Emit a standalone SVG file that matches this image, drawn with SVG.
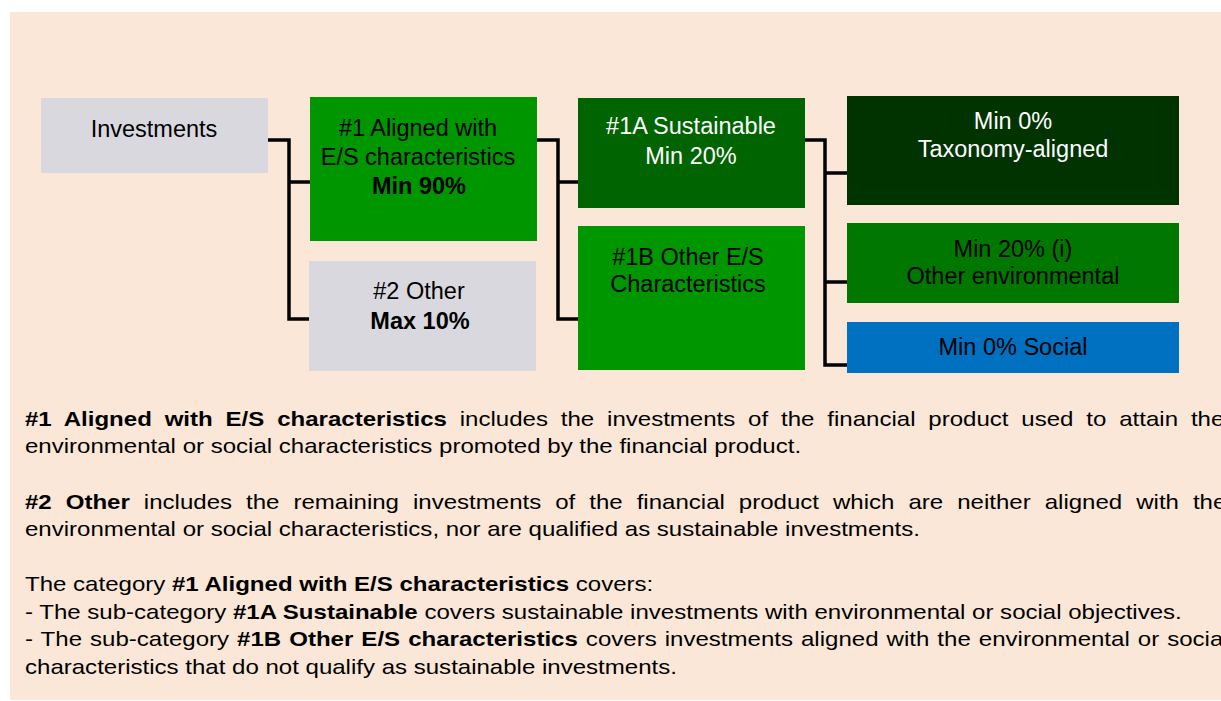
<svg xmlns="http://www.w3.org/2000/svg" width="1221" height="701" viewBox="0 0 1221 701">
<style>
.t{font-family:"Liberation Sans",Arial,sans-serif;font-size:23.5px;text-anchor:middle;fill:#000}
.w{fill:#fff}
.b{font-weight:bold}
.p{font-family:"Liberation Sans",Arial,sans-serif;font-size:21px;fill:#000}
.c{fill:none;stroke:#000;stroke-width:3.5}
</style>
<rect x="0" y="0" width="1221" height="701" fill="#fff"/>
<rect x="10" y="12" width="1211" height="688" fill="#fae7d7"/>
<g id="connectors">
<path class="c" d="M268 140 H289 V319 H309 M289 182 H310"/>
<path class="c" d="M537 140 H558 V319 H578 M558 182 H578"/>
<path class="c" d="M805 140 H825 V365 H847 M825 173 H847 M825 282 H847"/>
</g>
<g id="investments"><rect x="41" y="98" width="227" height="75" fill="#dad8df"/><text class="t" x="154" y="136.5">Investments</text></g>
<g id="aligned"><rect x="310" y="97" width="227" height="144" fill="#009600"/><text class="t" x="418" y="136">#1 Aligned with</text><text class="t" x="418" y="164.5">E/S characteristics</text><text class="t b" x="419" y="194">Min 90%</text></g>
<g id="other"><rect x="309" y="261" width="227" height="110" fill="#dad8df"/><text class="t" x="419" y="299">#2 Other</text><text class="t b" x="420" y="329">Max 10%</text></g>
<g id="sustainable"><rect x="578" y="98" width="227" height="110" fill="#006400"/><text class="t w" x="691" y="134">#1A Sustainable</text><text class="t w" x="691" y="163.5">Min 20%</text></g>
<g id="other-es"><rect x="578" y="226" width="227" height="144" fill="#009600"/><text class="t" x="688" y="265">#1B Other E/S</text><text class="t" x="688" y="292">Characteristics</text></g>
<g id="taxonomy"><rect x="847" y="96" width="332" height="109" fill="#003300"/><text class="t w" x="1013" y="129">Min 0%</text><text class="t w" x="1013" y="157">Taxonomy-aligned</text></g>
<g id="other-env"><rect x="847" y="223" width="332" height="80" fill="#007800"/><text class="t" x="1013" y="256.5">Min 20% (i)</text><text class="t" x="1013" y="283.5">Other environmental</text></g>
<g id="social"><rect x="847" y="322" width="332" height="51" fill="#0070c0"/><text class="t" x="1013" y="355">Min 0% Social</text></g>
<g id="notes" transform="translate(25,0) scale(1.145,1)">
<text class="p" x="0" y="426.5" style="word-spacing:5.4px"><tspan class="b">#1 Aligned with E/S characteristics</tspan> includes the investments of the financial product used to attain the</text>
<text class="p" x="0" y="453.5">environmental or social characteristics promoted by the financial product.</text>
<text class="p" x="0" y="509" style="word-spacing:6.4px"><tspan class="b">#2 Other</tspan> includes the remaining investments of the financial product which are neither aligned with the</text>
<text class="p" x="0" y="536">environmental or social characteristics, nor are qualified as sustainable investments.</text>
<text class="p" x="0" y="591.5">The category <tspan class="b">#1 Aligned with E/S characteristics</tspan> covers:</text>
<text class="p" x="0" y="619">- The sub-category <tspan class="b">#1A Sustainable</tspan> covers sustainable investments with environmental or social objectives.</text>
<text class="p" x="0" y="646.5" style="word-spacing:1.2px">- The sub-category <tspan class="b">#1B Other E/S characteristics</tspan> covers investments aligned with the environmental or social</text>
<text class="p" x="0" y="674">characteristics that do not qualify as sustainable investments.</text>
</g>
</svg>
